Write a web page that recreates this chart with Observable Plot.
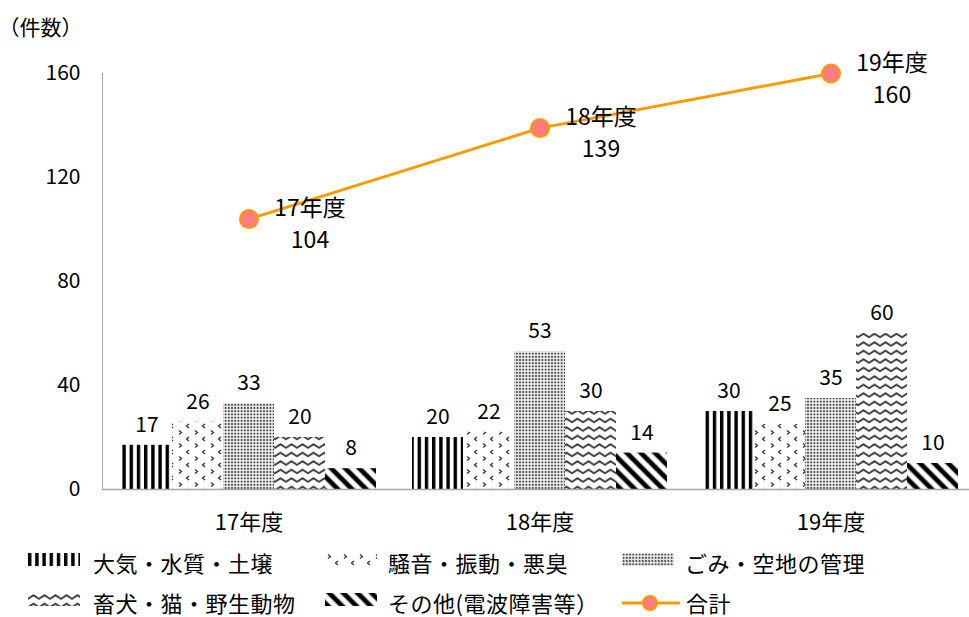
<!DOCTYPE html>
<html><head><meta charset="utf-8">
<script src="https://cdn.jsdelivr.net/npm/d3@7"></script>
<script src="https://cdn.jsdelivr.net/npm/@observablehq/plot@0.6"></script>
<style>
body{margin:0;background:#fff;font-family:"Noto Sans CJK JP",sans-serif;}
#wrap{position:relative;width:969px;height:617px;overflow:hidden;}
#legend{position:relative;width:969px;height:72px;}
.sw{position:absolute;}
.lt{position:absolute;font-size:22px;line-height:24px;white-space:nowrap;color:#000;letter-spacing:0.5px;}
</style></head><body>
<svg width="0" height="0" style="position:absolute">
<defs>
<pattern id="p0" width="7.2" height="10" patternUnits="userSpaceOnUse"><rect width="7.2" height="10" fill="#fff"/><rect width="3.4" height="10" fill="#000"/></pattern>
<pattern id="p1" width="16" height="13" patternUnits="userSpaceOnUse"><rect width="16" height="13" fill="#fff"/><path d="M3,1.5 L5.5,3.5 L3,5.5" fill="none" stroke="#333" stroke-width="1.3"/><path d="M13,8 L10.5,10 L13,12" fill="none" stroke="#333" stroke-width="1.3"/></pattern>
<pattern id="p2" width="3.2" height="3.2" patternUnits="userSpaceOnUse"><rect width="3.2" height="3.2" fill="#eee"/><circle cx="1.6" cy="1.6" r="1.05" fill="#444"/></pattern>
<pattern id="p3" width="11" height="8.5" patternUnits="userSpaceOnUse"><rect width="11" height="8.5" fill="#fff"/><path d="M-0.5,6 L5.5,2.2 L11.5,6" fill="none" stroke="#333" stroke-width="1.8" stroke-linejoin="round"/></pattern>
<pattern id="p4" width="10" height="10" patternUnits="userSpaceOnUse" patternTransform="rotate(-45)"><rect width="10" height="10" fill="#fff"/><rect x="0" width="6" height="10" fill="#999"/><rect x="1" width="4" height="10" fill="#000"/></pattern>
</defs></svg>
<div id="wrap"><div id="chart"></div><div id="legend"></div></div>
<script>
const years = ["17年度", "18年度", "19年度"];
const categories = ["大気・水質・土壌", "騒音・振動・悪臭", "ごみ・空地の管理", "畜犬・猫・野生動物", "その他(電波障害等）"];
const air = [17, 20, 30];
const noise = [26, 22, 25];
const garbage = [33, 53, 35];
const animals = [20, 30, 60];
const other = [8, 14, 10];
const totals = [104, 139, 160];
const totalLabel = "合計";
const yTicks = [0, 40, 80, 120, 160];
const yUnit = "（件数）";

const series = [air, noise, garbage, animals, other];
const marks = [];
series.forEach((vals, i) => {
  const d = years.map((y, j) => ({year: y, value: vals[j]}));
  marks.push(Plot.barY(d, {x: "year", y: "value", fill: `url(#p${i})`, insetLeft: 18 + 51 * i, insetRight: 18 + 51 * (4 - i)}));
  marks.push(Plot.text(d, {x: "year", y: "value", text: d => String(d.value), dx: -102 + 51 * i, dy: -20, fontSize: 21}));
});
const tot = years.map((y, j) => ({year: y, total: totals[j]}));
marks.push(Plot.ruleY([0], {stroke: "#a6a6a6", strokeWidth: 1.5}));
marks.push(Plot.frame({anchor: "left", stroke: "#a6a6a6"}));
marks.push(Plot.line(tot, {x: "year", y: "total", stroke: "#FF9900", strokeWidth: 3}));
marks.push(Plot.dot(tot, {x: "year", y: "total", r: 9, fill: "#FF7C80", stroke: "#FF9900", strokeWidth: 2}));
marks.push(Plot.text(tot, {x: "year", y: "total", text: d => d.year + "\n" + d.total, dx: 61, dy: 3, lineHeight: 1.39, fontSize: 23}));
marks.push(Plot.axisX({tickSize: 0, tickPadding: 25, fontSize: 22, label: null}));
marks.push(Plot.axisY({ticks: yTicks, tickSize: 0, tickPadding: 22, fontSize: 21, label: null}));
marks.push(Plot.text([yUnit], {frameAnchor: "top-left", dx: -104, dy: -45, textAnchor: "start", lineAnchor: "middle", fontSize: 21}));

const chart = Plot.plot({
  width: 969, height: 545,
  marginLeft: 102, marginRight: 0, marginTop: 73, marginBottom: 56,
  style: {fontFamily: '"Noto Sans CJK JP", sans-serif', fontSize: "20px", color: "#000", background: "#fff", overflow: "visible"},
  x: {domain: years, range: [102, 976], padding: 0, label: null},
  y: {domain: [0, 160], label: null},
  marks
});
document.getElementById("chart").appendChild(chart);

// legend
const legend = document.getElementById("legend");
const items = [
  {sx: 28, tx: 93, cy: 17, i: 0},
  {sx: 325, tx: 388, cy: 17, i: 1},
  {sx: 622, tx: 685, cy: 17, i: 2},
  {sx: 28, tx: 93, cy: 57, i: 3},
  {sx: 325, tx: 388, cy: 57, i: 4}
];
const ns = "http://www.w3.org/2000/svg";
items.forEach(it => {
  const s = document.createElementNS(ns, "svg");
  s.setAttribute("width", 52); s.setAttribute("height", 13);
  s.setAttribute("class", "sw");
  s.style.left = it.sx + "px"; s.style.top = (it.cy - 9) + "px";
  const r = document.createElementNS(ns, "rect");
  r.setAttribute("width", 52); r.setAttribute("height", 13);
  r.setAttribute("fill", `url(#p${it.i})`);
  s.appendChild(r); legend.appendChild(s);
  const t = document.createElement("div");
  t.className = "lt"; t.textContent = categories[it.i];
  t.style.left = it.tx + "px"; t.style.top = (it.cy - 12) + "px";
  legend.appendChild(t);
});
{
  const s = document.createElementNS(ns, "svg");
  s.setAttribute("width", 60); s.setAttribute("height", 20);
  s.setAttribute("class", "sw");
  s.style.left = "621px"; s.style.top = (57 - 9) + "px";
  s.innerHTML = '<line x1="1" y1="10" x2="59" y2="10" stroke="#FF9900" stroke-width="3"/><circle cx="29" cy="10" r="7" fill="#FF7C80" stroke="#FF9900" stroke-width="2"/>';
  legend.appendChild(s);
  const t = document.createElement("div");
  t.className = "lt"; t.textContent = totalLabel;
  t.style.left = "686px"; t.style.top = (57 - 12) + "px";
  legend.appendChild(t);
}
</script>
</body></html>
